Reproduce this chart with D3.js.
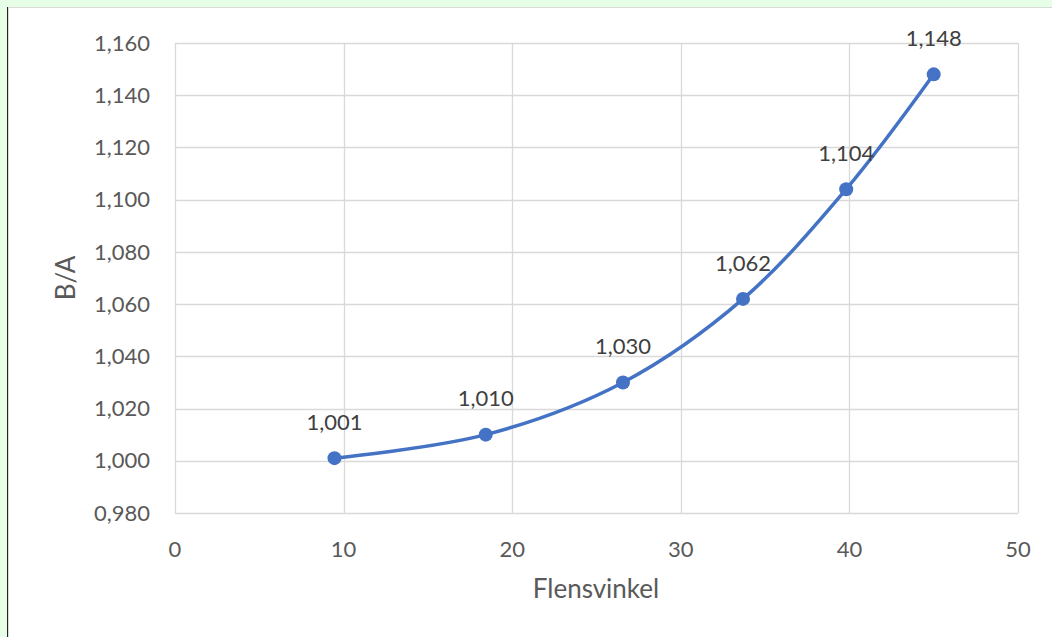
<!doctype html>
<html>
<head>
<meta charset="utf-8">
<title>B/A vs Flensvinkel</title>
<script src="https://d3js.org/d3.v7.min.js"></script>
<style>
  html, body { margin: 0; padding: 0; background: #e6fde6; }
  svg { display: block; }
  text { font-family: Lato, "Open Sans", sans-serif; fill: #595959; }
</style>
</head>
<body>
<script>
// data
var angles = [9.46, 18.43, 26.57, 33.69, 39.81, 45.0];
var ratios = [1.001, 1.010, 1.030, 1.062, 1.104, 1.148];
var xTicks = [0, 10, 20, 30, 40, 50];
var yTicks = [0.98, 1.00, 1.02, 1.04, 1.06, 1.08, 1.10, 1.12, 1.14, 1.16];

var W = 1052, H = 637;
var svg = d3.select("body").append("svg").attr("width", W).attr("height", H);

// chart frame
svg.append("rect").attr("x", 7).attr("y", 7).attr("width", W - 7).attr("height", H - 7).attr("fill", "#fff");
svg.append("line").attr("x1", 7.5).attr("x2", 7.5).attr("y1", 7).attr("y2", H).attr("stroke", "#222").attr("stroke-width", 1);
svg.append("line").attr("x1", 8.5).attr("x2", 8.5).attr("y1", 8).attr("y2", H).attr("stroke", "#d9d9d9").attr("stroke-width", 1);
svg.append("line").attr("x1", 8).attr("x2", W).attr("y1", 7.5).attr("y2", 7.5).attr("stroke", "#d9d9d9").attr("stroke-width", 1);

var x = d3.scaleLinear().domain([0, 50]).range([175, 1018]);
var y = d3.scaleLinear().domain([0.98, 1.16]).range([513, 43]);

var fmt = function(v) { return d3.format(".3f")(v).replace(".", ","); };

// grid
svg.append("g").selectAll("line").data(yTicks).enter().append("line")
    .attr("x1", x(0)).attr("x2", x(50))
    .attr("y1", function(d) { return Math.round(y(d)) + 0.5; })
    .attr("y2", function(d) { return Math.round(y(d)) + 0.5; })
    .attr("stroke", "#d9d9d9").attr("stroke-width", 1.3);
svg.append("g").selectAll("line").data(xTicks).enter().append("line")
    .attr("x1", function(d) { return Math.round(x(d)) + 0.5; })
    .attr("x2", function(d) { return Math.round(x(d)) + 0.5; })
    .attr("y1", y(1.16)).attr("y2", y(0.98))
    .attr("stroke", "#d9d9d9").attr("stroke-width", 1.3);

// tick labels
svg.append("g").selectAll("text").data(yTicks).enter().append("text")
    .attr("x", 150).attr("y", function(d) { return y(d); })
    .attr("dy", "0.35em").attr("text-anchor", "end")
    .style("font-size", "22px")
    .text(fmt);
svg.append("g").selectAll("text").data(xTicks).enter().append("text")
    .attr("x", function(d) { return x(d); }).attr("y", 549)
    .attr("dy", "0.35em").attr("text-anchor", "middle")
    .style("font-size", "22px")
    .text(function(d) { return d; });

// axis titles
svg.append("text").attr("x", 596).attr("y", 589).attr("dy", "0.35em")
    .attr("text-anchor", "middle").style("font-size", "26px").text("Flensvinkel");
svg.append("text").attr("transform", "translate(66,278) rotate(-90)").attr("dy", "0.35em")
    .attr("text-anchor", "middle").style("font-size", "26px").text("B/A");

// series
var pts = angles.map(function(a, i) { return [a, ratios[i]]; });
var line = d3.line()
    .x(function(d) { return x(d[0]); })
    .y(function(d) { return y(d[1]); })
    .curve(d3.curveCatmullRom.alpha(0.5));

svg.append("path").datum(pts).attr("d", line)
    .attr("fill", "none").attr("stroke", "#4472c4").attr("stroke-width", 3.5)
    .attr("stroke-linecap", "round");

svg.append("g").selectAll("circle").data(pts).enter().append("circle")
    .attr("cx", function(d) { return x(d[0]); })
    .attr("cy", function(d) { return y(d[1]); })
    .attr("r", 7).attr("fill", "#4472c4");

svg.append("g").selectAll("text").data(pts).enter().append("text")
    .attr("x", function(d) { return x(d[0]); })
    .attr("y", function(d) { return y(d[1]) - 36; })
    .attr("dy", "0.35em").attr("text-anchor", "middle")
    .style("font-size", "22px").style("fill", "#404040")
    .text(function(d) { return fmt(d[1]); });
</script>
</body>
</html>
